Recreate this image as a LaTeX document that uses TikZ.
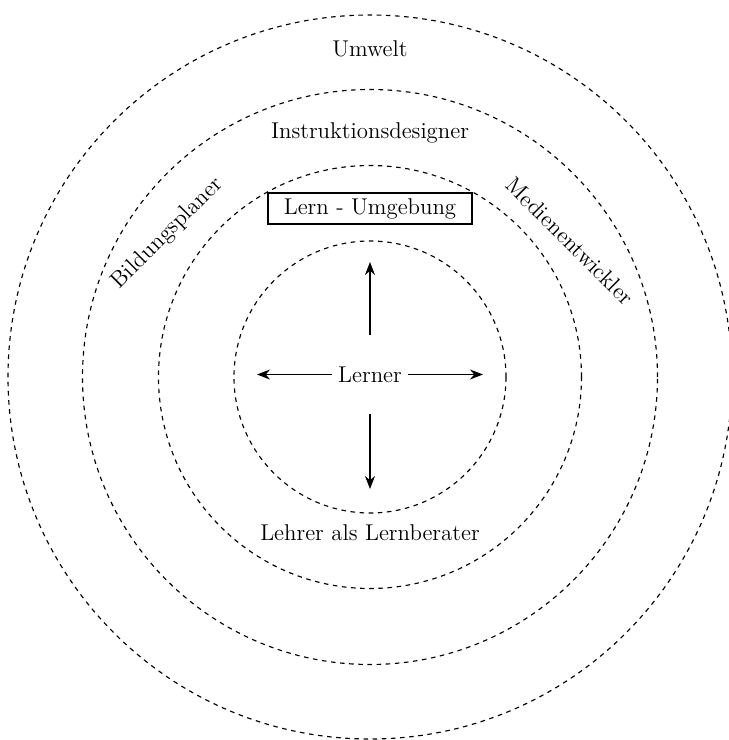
\documentclass[tikz,border=0pt]{standalone}
\usepackage{tikz}
\usetikzlibrary{arrows.meta, positioning}
\definecolor{mydark}{RGB}{0,0,0}
\tikzset{
  ring/.style={draw=mydark, dash pattern=on 2.6pt off 2.6pt, line width=0.65pt},
  label/.style={font=\fontsize{13}{15}\selectfont, text=mydark, inner sep=0pt},
  envbox/.style={rectangle, draw=mydark, line width=0.7pt, font=\fontsize{13}{15}\selectfont,
    minimum width=4.08cm, minimum height=0.62cm, inner sep=0pt},
  arrow/.style={-{Stealth[length=2.6mm, width=2mm]}, line width=0.65pt, color=mydark}
}
\begin{document}
\begin{tikzpicture}[font=\fontsize{13}{15}\selectfont]
  % Fix the frame
  \useasboundingbox (-7.4, -7.26) rectangle (7.18, 7.54);

  % Dashed rings
  \coordinate (M) at (0, 0);
  \foreach \r in {2.72, 4.23, 5.75, 7.24}
    \draw[ring] (M) circle (\r);

  % Ring labels
  \node[label] (umwelt) at (0, 6.56) {Umwelt};
  \node[label] (design) at (0, 4.88) {Instruktionsdesigner};
  \node[label, rotate=45] (bildung) at (-4.05, 2.87) {Bildungsplaner};
  \node[label, rotate=-45] (medien) at (4.0, 2.72) {Medienentwickler};
  \node[envbox] (lernumg) at (0, 3.37) {Lern - Umgebung};
  \node[label] (lehrer) at (0, -3.12) {Lehrer als Lernberater};

  % Learner with arrows
  \node[minimum height=1.55cm, text=mydark] (lerner) at (0, 0.05) {Lerner};
  \coordinate (up) at (0, 2.3);
  \coordinate (down) at (0, -2.24);
  \coordinate (left) at (-2.26, 0.05);
  \coordinate (right) at (2.26, 0.05);
  \draw[arrow] (lerner.north) -- (up);
  \draw[arrow] (lerner.south) -- (down);
  \draw[arrow] (lerner.west) -- (left);
  \draw[arrow] (lerner.east) -- (right);
\end{tikzpicture}
\end{document}
